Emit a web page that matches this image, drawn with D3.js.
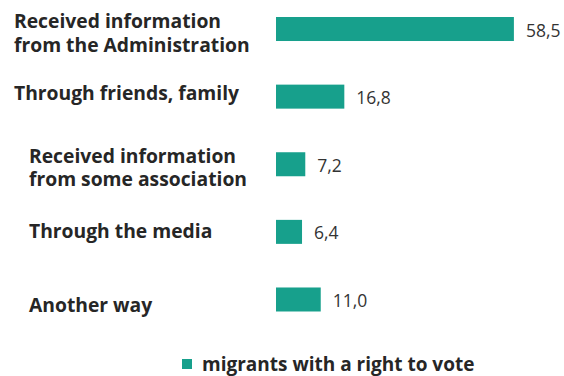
<!DOCTYPE html>
<html>
<head>
<meta charset="utf-8">
<script src="https://cdn.jsdelivr.net/npm/d3@7"></script>
<style>
  html, body { margin: 0; padding: 0; background: #ffffff; }
  svg { display: block; }
</style>
</head>
<body>
<svg id="chart" width="564" height="376"></svg>
<script>
// Survey: how migrants with a right to vote got their information (%)
const categories = [
  "Received information from the Administration",
  "Through friends, family",
  "Received information from some association",
  "Through the media",
  "Another way"
];
// Category labels split over lines
const labelLines = [
  ["Received information", "from the Administration"],
  ["Through friends, family"],
  ["Received information", "from some association"],
  ["Through the media"],
  ["Another way"]
];
const values = [58.5, 16.8, 7.2, 6.4, 11.0];
const seriesName = "migrants with a right to vote";

// Label placement (left edge and baseline shift from the bar centre)
const labelX = [14, 14, 29, 29, 29];
const labelDy = [-1, 3.5, -1.5, 6, 12.5];

const barColor = "#17a08c";
const textColor = "#262626";
const fontFamily = "'Open Sans', 'Noto Sans', sans-serif";
const fmt = v => d3.format(".1f")(v).replace(".", ",");

const svg = d3.select("#chart");

const x = d3.scaleLinear().domain([0, 60]).range([276, 520]);
const y = d3.scaleBand()
  .domain(categories)
  .range([-4.8, 333.3])
  .paddingInner(0.645)
  .paddingOuter(0.3225);

const rows = categories.map((c, i) => ({ c, v: values[i], lines: labelLines[i], i }));

// Bars
svg.append("g").selectAll("rect")
  .data(rows)
  .join("rect")
  .attr("x", x(0))
  .attr("y", d => y(d.c))
  .attr("width", d => x(d.v) - x(0))
  .attr("height", y.bandwidth())
  .attr("fill", barColor);

// Value labels
svg.append("g").selectAll("text")
  .data(rows)
  .join("text")
  .attr("x", d => x(d.v) + 12)
  .attr("y", d => y(d.c) + y.bandwidth() / 2 + 7.5)
  .attr("font-family", fontFamily)
  .attr("font-size", 17.5)
  .attr("fill", "#333333")
  .text(d => fmt(d.v));

// Category labels
const cat = svg.append("g").selectAll("text")
  .data(rows)
  .join("text")
  .attr("font-family", fontFamily)
  .attr("font-weight", "bold")
  .attr("font-size", 19.3)
  .attr("fill", textColor)
  .attr("x", d => labelX[d.i])
  .attr("y", d => y(d.c) + y.bandwidth() / 2 + labelDy[d.i]);

cat.selectAll("tspan")
  .data(d => d.lines.map(t => ({ t, x: labelX[d.i] })))
  .join("tspan")
  .attr("x", d => d.x)
  .attr("dy", (d, j) => j === 0 ? 0 : 23.5)
  .text(d => d.t);

// Legend
const legend = svg.append("g").attr("transform", "translate(182,359)");
legend.append("rect")
  .attr("width", 10)
  .attr("height", 10)
  .attr("fill", barColor);
legend.append("text")
  .attr("x", 20)
  .attr("y", 12)
  .attr("font-family", fontFamily)
  .attr("font-weight", "bold")
  .attr("font-size", 19)
  .attr("fill", textColor)
  .text(seriesName);
</script>
</body>
</html>
